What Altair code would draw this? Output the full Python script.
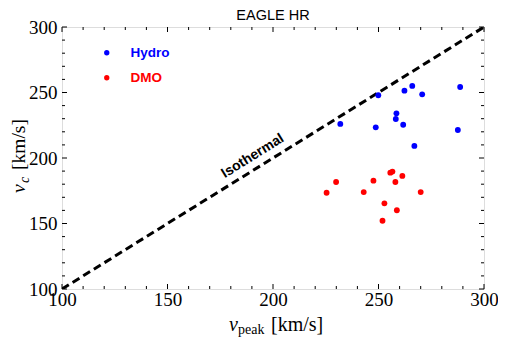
import altair as alt
import pandas as pd

# ---- data ----
hydro_vpeak = [231.9, 248.7, 249.9, 258.5, 258.2, 261.7, 262.3, 266.0, 270.7, 267.0, 288.7, 287.6]
hydro_vc = [226.0, 223.4, 247.9, 234.1, 229.8, 225.4, 251.4, 255.0, 248.6, 209.2, 254.2, 221.4]
dmo_vpeak = [225.4, 229.9, 243.0, 247.6, 255.6, 256.6, 261.3, 258.0, 270.0, 252.8, 258.7, 251.9]
dmo_vc = [173.5, 181.7, 174.0, 182.7, 188.8, 189.6, 186.3, 181.7, 174.0, 165.4, 160.1, 152.1]
iso_x = [100, 300]
iso_y = [100, 300]
major_ticks = [100, 150, 200, 250, 300]
minor_ticks = [v for v in range(110, 300, 10) if v % 50 != 0]
iso_label = {"x": [190.4], "y": [201.5], "t": ["Isothermal"]}

W, H = 422, 262
SERIF = "Liberation Serif"
SANS = "Liberation Sans"

dom = [100, 300]
xs = alt.Scale(domain=dom, nice=False, zero=False)
ys = alt.Scale(domain=dom, nice=False, zero=False)
xaxis = alt.Axis(values=major_ticks, ticks=False, domain=False, grid=False, title=None,
                 labelFont=SERIF, labelFontSize=19, labelColor="black", labelPadding=1,
                 labelFlush=False, labelOverlap=False, labelBound=False)
yaxis = alt.Axis(values=major_ticks, ticks=False, domain=False, grid=False, title=None,
                 labelFont=SERIF, labelFontSize=19, labelColor="black", labelPadding=5,
                 labelFlush=False, labelOverlap=False, labelBound=False)

def X(f):
    return alt.X(f, type="quantitative", scale=xs, axis=xaxis)

def Y(f):
    return alt.Y(f, type="quantitative", scale=ys, axis=yaxis)

hydro = pd.DataFrame({"vpeak": hydro_vpeak, "vc": hydro_vc, "sim": "Hydro"})
dmo = pd.DataFrame({"vpeak": dmo_vpeak, "vc": dmo_vc, "sim": "DMO"})
iso = pd.DataFrame({"x": iso_x, "y": iso_y})
majors = pd.DataFrame({"v": major_ticks})
minors = pd.DataFrame({"v": minor_ticks})

line = alt.Chart(iso).mark_line(color="black", strokeWidth=3, strokeDash=[8, 4.5], clip=True).encode(
    x=X("x"), y=Y("y"))

iso_txt = alt.Chart(pd.DataFrame(iso_label)).mark_text(
    font=SANS, fontWeight="bold", fontSize=14, angle=328, align="center", baseline="middle", color="black"
).encode(x=X("x"), y=Y("y"), text="t:N")

def leg(color, ly):
    return alt.Legend(orient="none", legendX=38, legendY=ly, title=None, symbolType="circle",
                      symbolSize=28, symbolStrokeWidth=0, labelFont=SANS, labelFontWeight="bold",
                      labelFontSize=13.5, labelColor=color, labelOffset=17, padding=0)

pts_h = alt.Chart(hydro).mark_circle(size=34, opacity=1).encode(
    x=X("vpeak"), y=Y("vc"),
    color=alt.Color("sim:N", scale=alt.Scale(domain=["Hydro"], range=["#0000ff"]), legend=leg("#0000ff", 19)))
pts_d = alt.Chart(dmo).mark_circle(size=34, opacity=1).encode(
    x=X("vpeak"), y=Y("vc"),
    color=alt.Color("sim:N", scale=alt.Scale(domain=["DMO"], range=["#ff0000"]), legend=leg("#ff0000", 44)))

def xticks(df, ln):
    b = alt.Chart(df).mark_rule(color="black", strokeWidth=1).encode(
        x=X("v"), y=alt.value(H), y2=alt.value(H - ln))
    t = alt.Chart(df).mark_rule(color="black", strokeWidth=1).encode(
        x=X("v"), y=alt.value(0), y2=alt.value(ln))
    return [b, t]

def yticks(df, ln):
    l = alt.Chart(df).mark_rule(color="black", strokeWidth=1).encode(
        y=Y("v"), x=alt.value(0), x2=alt.value(ln))
    r = alt.Chart(df).mark_rule(color="black", strokeWidth=1).encode(
        y=Y("v"), x=alt.value(W), x2=alt.value(W - ln))
    return [l, r]

ticks = xticks(majors, 5) + xticks(minors, 3) + yticks(majors, 5) + yticks(minors, 3)

one = pd.DataFrame({"a": [0]})
def txt(s, x, y, size, font=SERIF, style="normal", angle=0, align="left", baseline="alphabetic", weight="normal"):
    return alt.Chart(one).mark_text(
        text=s, font=font, fontSize=size, fontStyle=style, angle=angle, align=align,
        baseline=baseline, color="black", fontWeight=weight
    ).encode(x=alt.value(x), y=alt.value(y))

labels = [
    txt("EAGLE HR", W / 2, -7, 14.5, font=SANS, align="center"),
    # x title
    txt("v", 167, 304, 20, style="italic"),
    txt("peak", 176, 307, 14),
    txt("[km/s]", 209, 304, 20),
    # y title (rotated)
    txt("v", -37, 166, 19.5, style="italic", angle=270),
    txt("c", -33, 156, 14, style="italic", angle=270),
    txt("[km/s]", -37, 143, 19.5, angle=270),
]

chart = alt.layer(line, iso_txt, pts_h, pts_d, *ticks, *labels).resolve_scale(
    color="independent"
).properties(
    width=W, height=H,
    autosize=alt.AutoSizeParams(type="none"),
    padding={"left": 54, "top": 19, "right": 14, "bottom": 49},
).configure_view(stroke="black", strokeWidth=1.2).configure(background="white")

chart.save("out.html", embed_options={"renderer": "svg", "actions": False})
